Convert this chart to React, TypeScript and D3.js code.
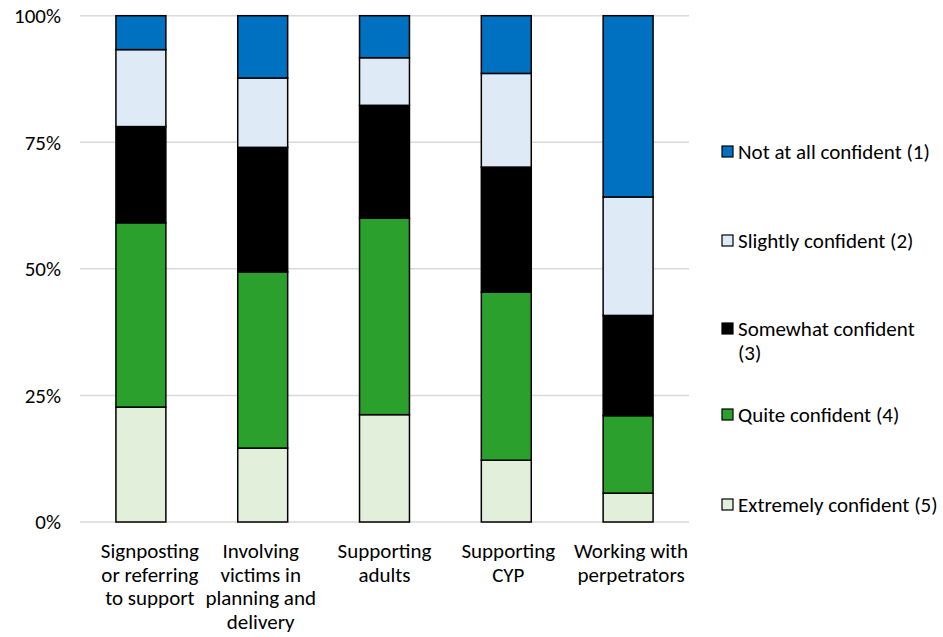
import React from "react";
import * as d3 from "d3";

const categories: string[][] = [
  ["Signposting", "or referring", "to support"],
  ["Involving", "victims in", "planning and", "delivery"],
  ["Supporting", "adults"],
  ["Supporting", "CYP"],
  ["Working with", "perpetrators"],
];
const seriesNames = [
  "Extremely confident (5)",
  "Quite confident (4)",
  "Somewhat confident (3)",
  "Slightly confident (2)",
  "Not at all confident (1)",
];
const extremely = [22.7, 14.6, 21.2, 12.2, 5.7];
const quite = [36.4, 34.8, 38.8, 33.2, 15.3];
const somewhat = [19.0, 24.6, 22.3, 24.7, 19.8];
const slightly = [15.2, 13.7, 9.4, 18.5, 23.4];
const notAtAll = [6.7, 12.3, 8.3, 11.4, 35.8];
const yTicks = [0, 25, 50, 75, 100];
const colors = ["#E2EFDA", "#2CA02C", "#000000", "#DEEAF6", "#0070C0"];

const W = 943;
const H = 637;
const left = 80;
const right = 689;
const top = 15.7;
const bottom = 522;
const FS = 21;
const FONT = "Carlito, Calibri, Lato, 'Open Sans', sans-serif";
const labelNudge = [9, -2, 0, 2, 3];

export default function App() {
  const seriesVals = [extremely, quite, somewhat, slightly, notAtAll];
  const rows = categories.map((_, i) => {
    const r: any = { i };
    seriesNames.forEach((s, k) => (r[s] = seriesVals[k][i]));
    return r;
  });
  const stacked = d3.stack<any>().keys(seriesNames)(rows);
  const x = d3
    .scaleBand<number>()
    .domain(categories.map((_, i) => i))
    .range([left, right])
    .paddingInner(0.59)
    .paddingOuter(0.295);
  const y = d3.scaleLinear().domain([0, 100]).range([bottom, top]);
  const legendY = [152, 241, 329, 415, 505].reverse();
  const legendLines: string[][] = [
    ["Extremely confident (5)"],
    ["Quite confident (4)"],
    ["Somewhat confident", "(3)"],
    ["Slightly confident (2)"],
    ["Not at all confident (1)"],
  ];

  return (
    <svg width={W} height={H} style={{ position: "absolute", left: 0, top: 0, background: "#fff" }} fontFamily={FONT}>
      {yTicks.map((t) => (
        <g key={t}>
          <line x1={left} x2={right} y1={y(t)} y2={y(t)} stroke="#D9D9D9" strokeWidth={1.5} />
          <text x={61} y={y(t)} dy="0.35em" textAnchor="end" fontSize={FS} fill="#000">
            {t}%
          </text>
        </g>
      ))}
      {stacked.map((s, k) => (
        <g key={s.key}>
          {s.map((d, i) => (
            <rect
              key={i}
              x={x(i)}
              width={x.bandwidth()}
              y={y(d[1])}
              height={y(d[0]) - y(d[1])}
              fill={colors[k]}
              stroke="#000"
              strokeWidth={1.5}
            />
          ))}
        </g>
      ))}
      {categories.map((lines, i) => (
        <text key={i} textAnchor="middle" fontSize={FS} fill="#000">
          {lines.map((l, j) => (
            <tspan key={j} x={(x(i) as number) + x.bandwidth() / 2 + labelNudge[i]} y={558 + j * 23.5}>
              {l}
            </tspan>
          ))}
        </text>
      ))}
      {seriesNames.map((s, k) => (
        <g key={s}>
          <rect x={722} y={legendY[k] - 6} width={11} height={11} fill={colors[k]} stroke="#000" strokeWidth={1.2} />
          <text fontSize={FS} fill="#000">
            {legendLines[k].map((l, j) => (
              <tspan key={j} x={738} y={legendY[k] + 7 + j * 24}>
                {l}
              </tspan>
            ))}
          </text>
        </g>
      ))}
    </svg>
  );
}
